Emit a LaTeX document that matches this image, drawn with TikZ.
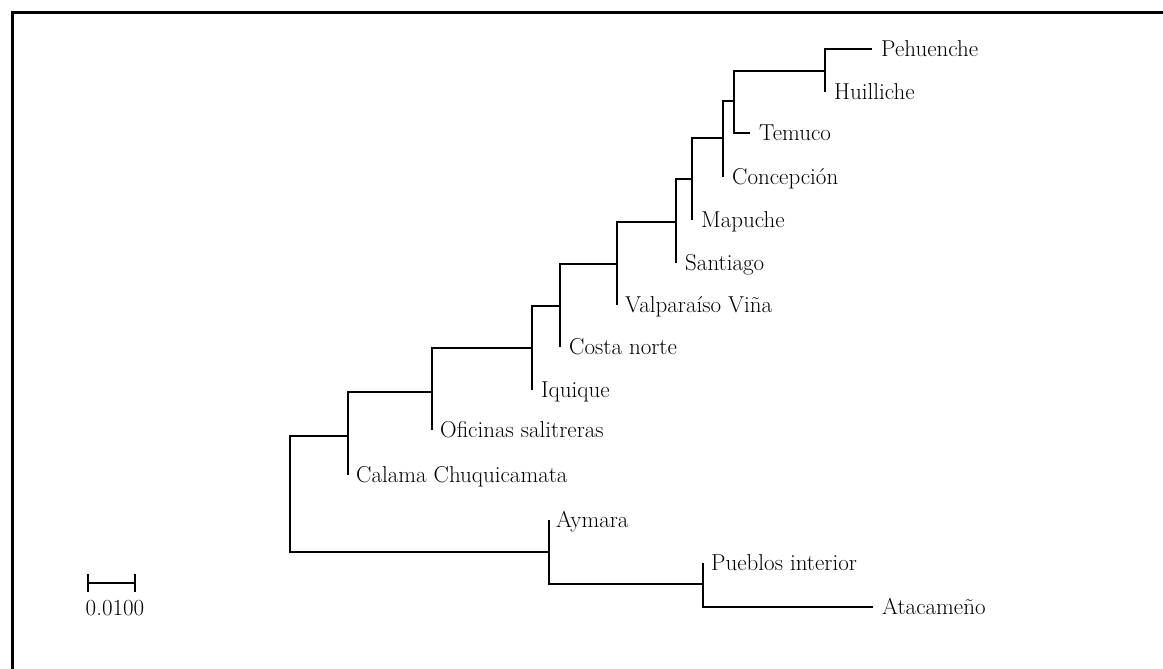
\documentclass[tikz,border=0pt]{standalone}
\usepackage{fontspec}
\begin{document}
\begin{tikzpicture}[x=1pt,y=-1pt,
  branch/.style={line width=2.2pt,line join=miter},
  frameline/.style={line width=3pt},
  leaflabel/.style={anchor=base west,inner sep=0pt,font=\fontsize{23}{26}\selectfont},
  scalelabel/.style={anchor=base,inner sep=0pt,font=\fontsize{23}{26}\selectfont}]
\useasboundingbox (0,0) rectangle (1163,669);
\fill[white] (0,0) rectangle (1163,669);
% frame (top and left edges)
\draw[frameline] (12,671) -- (12,13) -- (1166,13);
% internal nodes
\coordinate (root) at (290,494);
\coordinate (n10) at (348,436);
\coordinate (n9) at (432,392);
\coordinate (n8) at (532,348);
\coordinate (n7) at (560,306);
\coordinate (n6) at (617,264);
\coordinate (n5) at (676,222);
\coordinate (n4) at (692,179);
\coordinate (n3) at (723,138);
\coordinate (n2) at (734,101);
\coordinate (n1) at (825,71);
\coordinate (n12) at (549,552);
\coordinate (n11) at (703,584);
% leaf ends
\coordinate (peh) at (872,49);
\coordinate (hui) at (825,92);
\coordinate (tem) at (750,133);
\coordinate (con) at (723,177);
\coordinate (map) at (692,220);
\coordinate (san) at (676,263);
\coordinate (val) at (617,305);
\coordinate (cos) at (560,347);
\coordinate (iqu) at (532,390);
\coordinate (ofi) at (432,430);
\coordinate (cal) at (348,475);
\coordinate (aym) at (549,520);
\coordinate (pue) at (703,563);
\coordinate (ata) at (873,607);
% branches
\draw[branch] (root) |- (n10);
\draw[branch] (root) |- (n12);
\draw[branch] (n10) |- (n9);
\draw[branch] (n10) |- (cal);
\draw[branch] (n9) |- (n8);
\draw[branch] (n9) |- (ofi);
\draw[branch] (n8) |- (n7);
\draw[branch] (n8) |- (iqu);
\draw[branch] (n7) |- (n6);
\draw[branch] (n7) |- (cos);
\draw[branch] (n6) |- (n5);
\draw[branch] (n6) |- (val);
\draw[branch] (n5) |- (n4);
\draw[branch] (n5) |- (san);
\draw[branch] (n4) |- (n3);
\draw[branch] (n4) |- (map);
\draw[branch] (n3) |- (n2);
\draw[branch] (n3) |- (con);
\draw[branch] (n2) |- (n1);
\draw[branch] (n2) |- (tem);
\draw[branch] (n1) |- (peh);
\draw[branch] (n1) |- (hui);
\draw[branch] (n12) |- (aym);
\draw[branch] (n12) |- (n11);
\draw[branch] (n11) |- (pue);
\draw[branch] (n11) |- (ata);
% leaf labels
\node[leaflabel] (lpeh) at ([xshift=9pt,yshift=-7.5pt]peh) {Pehuenche};
\node[leaflabel] (lhui) at ([xshift=9pt,yshift=-7.5pt]hui) {Huilliche};
\node[leaflabel] (ltem) at ([xshift=9pt,yshift=-7.5pt]tem) {Temuco};
\node[leaflabel] (lcon) at ([xshift=9pt,yshift=-7.5pt]con) {Concepción};
\node[leaflabel] (lmap) at ([xshift=9pt,yshift=-7.5pt]map) {Mapuche};
\node[leaflabel] (lsan) at ([xshift=9pt,yshift=-7.5pt]san) {Santiago};
\node[leaflabel] (lval) at ([xshift=8pt,yshift=-7.5pt]val) {Valparaíso Viña};
\node[leaflabel] (lcos) at ([xshift=9pt,yshift=-7.5pt]cos) {Costa norte};
\node[leaflabel] (liqu) at ([xshift=9pt,yshift=-7.5pt]iqu) {Iquique};
\node[leaflabel] (lofi) at ([xshift=8pt,yshift=-7.5pt]ofi) {Oficinas salitreras};
\node[leaflabel] (lcal) at ([xshift=8pt,yshift=-7.5pt]cal) {Calama Chuquicamata};
\node[leaflabel] (laym) at ([xshift=7pt,yshift=-7.5pt]aym) {Aymara};
\node[leaflabel] (lpue) at ([xshift=8pt,yshift=-7.5pt]pue) {Pueblos interior};
\node[leaflabel] (lata) at ([xshift=9pt,yshift=-7.5pt]ata) {Atacameño};
% scale bar
\coordinate (sbl) at (88,583);
\coordinate (sbr) at (135,583);
\draw[branch] (sbl) -- (sbr);
\draw[branch] ([yshift=9pt]sbl) -- ([yshift=-9pt]sbl);
\draw[branch] ([yshift=9pt]sbr) -- ([yshift=-9pt]sbr);
\node[scalelabel] (sblabel) at (115,615) {0.0100};
\end{tikzpicture}
\end{document}
